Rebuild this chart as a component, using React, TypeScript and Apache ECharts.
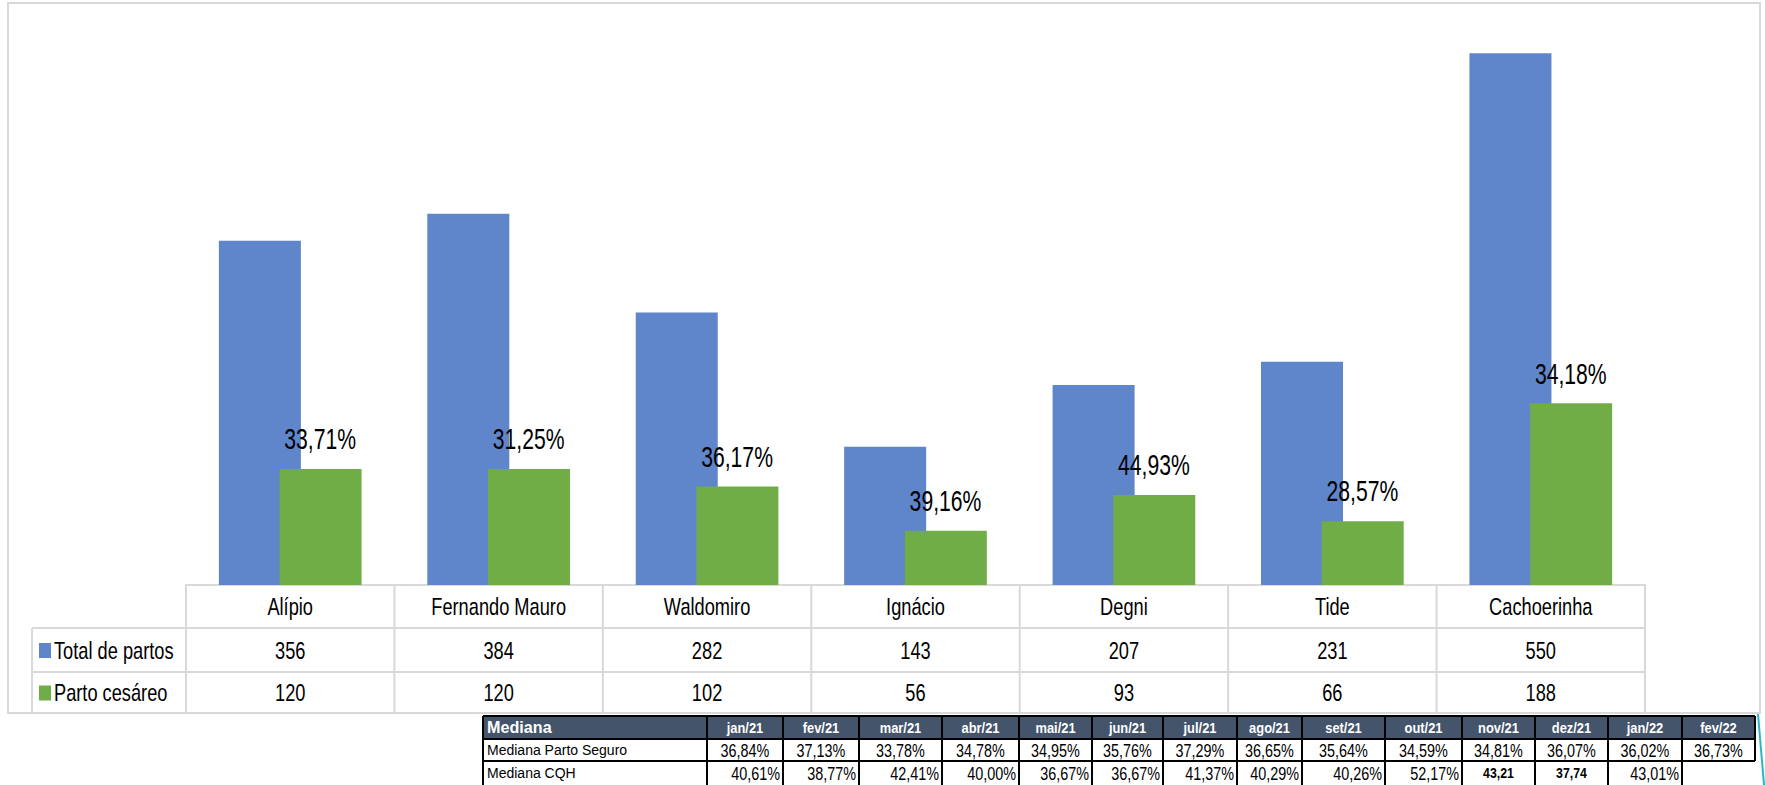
import React, { useEffect, useRef } from "react";
import * as echarts from "echarts";

// ---- Data ----
const categories = ["Alípio", "Fernando Mauro", "Waldomiro", "Ignácio", "Degni", "Tide", "Cachoerinha"];
const totalPartos = [356, 384, 282, 143, 207, 231, 550];
const partoCesareo = [120, 120, 102, 56, 93, 66, 188];
const cesareoPct = ["33,71%", "31,25%", "36,17%", "39,16%", "44,93%", "28,57%", "34,18%"];
const seriesNames = ["Total de partos", "Parto cesáreo"];
const yMax = 600;

const medianaTitle = "Mediana";
const medianaMonths = ["jan/21", "fev/21", "mar/21", "abr/21", "mai/21", "jun/21", "jul/21", "ago/21", "set/21", "out/21", "nov/21", "dez/21", "jan/22", "fev/22"];
const medianaRowNames = ["Mediana Parto Seguro", "Mediana CQH"];
const medianaPartoSeguro = ["36,84%", "37,13%", "33,78%", "34,78%", "34,95%", "35,76%", "37,29%", "36,65%", "35,64%", "34,59%", "34,81%", "36,07%", "36,02%", "36,73%"];
const medianaCQH = ["40,61%", "38,77%", "42,41%", "40,00%", "36,67%", "36,67%", "41,37%", "40,29%", "40,26%", "52,17%", "43,21", "37,74", "43,01%", ""];
const medianaCQHBold = [false, false, false, false, false, false, false, false, false, false, true, true, false, false];

// ---- Style / layout ----
const BLUE = "#5F85CB";
const GREEN = "#70AD47";
const GRID_LINE = "#d9d9d9";
const HEADER_BG = "#44546A";
const FONT = '"Liberation Sans", Arial, sans-serif';

const W = 1765;
const H = 785;
const gridLeft = 186;
const gridRight = 1645;
const baseY = 585;
const rowYs = [585, 628, 672, 713];
const legendColX = 32;
const medCols = [483, 707, 783, 859, 942, 1019, 1092, 1163, 1237, 1302, 1385, 1462, 1535, 1608, 1682, 1755];
const medRows = [716, 739, 761, 785];

function txt(text: string, x: number, y: number, o: any = {}) {
  const size = o.size ?? 23;
  const weight = o.bold ? "bold " : "";
  const align = o.align ?? "center";
  return {
    type: "text",
    x,
    y,
    scaleX: o.scaleX ?? 1,
    silent: true,
    z: 100,
    style: {
      text,
      font: `${weight}${size}px ${FONT}`,
      fill: o.color ?? "#000",
      align,
      verticalAlign: "middle",
      textAlign: align,
      textVerticalAlign: "middle",
    },
  };
}

function line(x1: number, y1: number, x2: number, y2: number, color: string, w = 2) {
  return {
    type: "line",
    silent: true,
    z: 90,
    shape: { x1, y1, x2, y2 },
    style: { stroke: color, lineWidth: w },
  };
}

function buildGraphic(chart: any) {
  const els: any[] = [];
  // outer chart frame
  els.push({
    type: "rect",
    silent: true,
    z: 1,
    shape: { x: 8, y: 3, width: 1752, height: 710 },
    style: { fill: "none", stroke: GRID_LINE, lineWidth: 2 },
  });

  const centers = categories.map((c) => chart.convertToPixel({ xAxisIndex: 0 }, c) as number);
  const half = (centers[1] - centers[0]) / 2;
  const bounds = [centers[0] - half, ...centers.map((c) => c + half)];
  const right = bounds[bounds.length - 1];

  // data table lines
  for (let r = 1; r < rowYs.length; r++) els.push(line(legendColX, rowYs[r], right, rowYs[r], GRID_LINE));
  els.push(line(legendColX, rowYs[1], legendColX, rowYs[3], GRID_LINE));
  bounds.forEach((b) => els.push(line(b, rowYs[0], b, rowYs[3], GRID_LINE)));

  const rc = [0, 1, 2].map((r) => (rowYs[r] + rowYs[r + 1]) / 2);
  categories.forEach((c, i) => {
    els.push(txt(c, centers[i], rc[0] + 1, { size: 24, scaleX: 0.76 }));
    els.push(txt(String(totalPartos[i]), centers[i], rc[1] + 1, { size: 24, scaleX: 0.76 }));
    els.push(txt(String(partoCesareo[i]), centers[i], rc[2] + 1, { size: 24, scaleX: 0.76 }));
  });
  // legend keys
  [BLUE, GREEN].forEach((col, k) => {
    els.push({
      type: "rect",
      silent: true,
      z: 100,
      shape: { x: 39, y: rc[k + 1] - 7, width: 12, height: 15 },
      style: { fill: col },
    });
    els.push(txt(seriesNames[k], 54, rc[k + 1] + 1, { size: 24, scaleX: 0.76, align: "left" }));
  });

  // Mediana table
  els.push({
    type: "rect",
    silent: true,
    z: 80,
    shape: { x: medCols[0], y: medRows[0], width: medCols[medCols.length - 1] - medCols[0], height: medRows[1] - medRows[0] },
    style: { fill: HEADER_BG },
  });
  const lastX = medCols[medCols.length - 1];
  els.push(line(medCols[0], medRows[0], lastX, medRows[0], "#000"));
  els.push(line(medCols[0], medRows[1], lastX, medRows[1], "#000"));
  els.push(line(medCols[0], medRows[2], lastX, medRows[2], "#000"));
  medCols.forEach((x, i) => {
    const yEnd = i === medCols.length - 1 ? medRows[2] : medRows[3];
    els.push(line(x, medRows[0], x, yEnd, "#000"));
  });
  const mr = [0, 1, 2].map((r) => (medRows[r] + medRows[r + 1]) / 2);
  els.push(txt(medianaTitle, medCols[0] + 4, mr[0], { size: 17, bold: true, color: "#fff", align: "left", scaleX: 0.95 }));
  els.push(txt(medianaRowNames[0], medCols[0] + 4, mr[1], { size: 14, align: "left" }));
  els.push(txt(medianaRowNames[1], medCols[0] + 4, mr[2], { size: 14, align: "left" }));
  medianaMonths.forEach((m, i) => {
    const cx = (medCols[i + 1] + medCols[i + 2]) / 2;
    const rx = medCols[i + 2] - 3;
    els.push(txt(m, cx, mr[0], { size: 15, bold: true, color: "#fff", scaleX: 0.86 }));
    els.push(txt(medianaPartoSeguro[i], cx, mr[1], { size: 18, scaleX: 0.8 }));
    if (medianaCQH[i]) {
      if (medianaCQHBold[i]) els.push(txt(medianaCQH[i], cx, mr[2], { size: 14, bold: true, scaleX: 0.88 }));
      else els.push(txt(medianaCQH[i], rx, mr[2], { size: 18, scaleX: 0.8, align: "right" }));
    }
  });

  // small teal selection mark at the right edge
  els.push(line(1758, 714, 1764, 785, "#2bb5c8", 2));
  return els;
}

export default function App() {
  const ref = useRef<HTMLDivElement>(null);
  useEffect(() => {
    document.body.style.margin = "0";
    const chart = echarts.init(ref.current!, null, { renderer: "svg" });
    const option: any = {
      animation: false,
      backgroundColor: "#fff",
      grid: { left: gridLeft, right: W - gridRight, top: 5, bottom: H - baseY, containLabel: false },
      xAxis: {
        type: "category",
        data: categories,
        axisLabel: { show: false },
        axisTick: { show: false },
        axisLine: { show: true, lineStyle: { color: GRID_LINE, width: 2 } },
      },
      yAxis: { type: "value", min: 0, max: yMax, show: false, splitLine: { show: false } },
      series: [
        {
          name: seriesNames[0],
          type: "bar",
          data: totalPartos,
          barWidth: 82,
          barGap: "-26%",
          itemStyle: { color: BLUE },
          silent: true,
        },
        {
          name: seriesNames[1],
          type: "bar",
          data: partoCesareo,
          barWidth: 82,
          barGap: "-26%",
          itemStyle: { color: GREEN },
          silent: true,
        },
        {
          type: "custom",
          data: partoCesareo.map((v, i) => [i, v]),
          encode: { x: 0, y: 1 },
          silent: true,
          z: 10,
          renderItem: (params: any, api: any) => {
            const p = api.coord([api.value(0), api.value(1)]);
            const align = "center";
            return {
              type: "text",
              x: p[0] + 30,
              y: p[1] - 30,
              scaleX: 0.73,
              style: {
                text: cesareoPct[params.dataIndex],
                font: `29px ${FONT}`,
                fill: "#000",
                align,
                verticalAlign: "middle",
                textAlign: align,
                textVerticalAlign: "middle",
              },
            };
          },
        },
      ],
    };
    chart.setOption(option);
    chart.setOption({ graphic: buildGraphic(chart) });
    return () => chart.dispose();
  }, []);
  return <div ref={ref} style={{ width: W, height: H }} />;
}
